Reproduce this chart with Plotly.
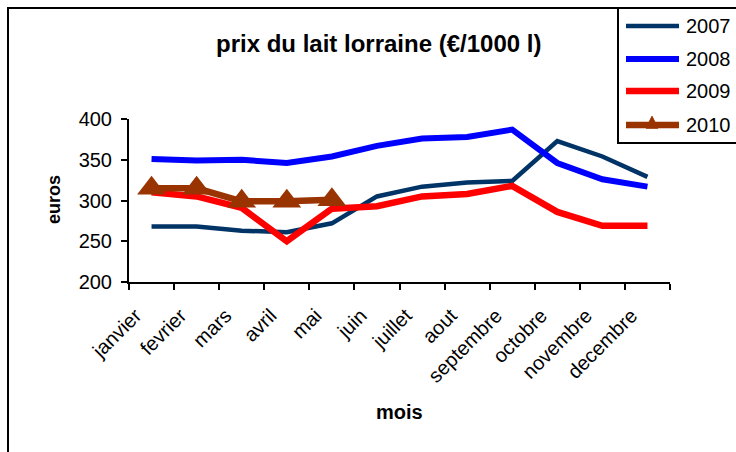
import plotly.graph_objects as go

mois = ["janvier", "fevrier", "mars", "avril", "mai", "juin", "juillet",
        "aout", "septembre", "octobre", "novembre", "decembre"]
v2007 = [268, 268, 263, 261, 272, 305, 317, 322, 324, 373, 354, 329]
v2008 = [351, 349, 350, 346, 354, 367, 376, 378, 387, 346, 326, 317]
v2009 = [310, 305, 291, 250, 290, 293, 305, 308, 318, 286, 269, 269]
v2010 = [315, 315, 299, 299, 301]

annees = ["2007", "2008", "2009", "2010"]
couleurs = ["#003366", "#0000FF", "#FF0000", "#993300"]
epaisseurs = [4.5, 6, 6.5, 6.5]

W, H = 736, 452
L, R, T, B = 129, 670, 119, 282

def px(x):
    return (x - L) / (R - L)

def py(y):
    return (B - y) / (B - T)

FONT = "Liberation Sans, Arial, sans-serif"

fig = go.Figure()
series = [v2007, v2008, v2009, v2010]
for name, vals, col, w in zip(annees, series, couleurs, epaisseurs):
    is2010 = name == "2010"
    fig.add_trace(go.Scatter(
        x=mois[:len(vals)], y=vals, name=name,
        mode="lines+markers" if is2010 else "lines",
        line=dict(color=col, width=w),
        marker=dict(symbol="triangle-up", size=25, color=col) if is2010 else None,
        showlegend=False))

# manual legend (Excel style)
shapes = [
    dict(type="rect", xref="paper", yref="paper",
         x0=px(8), x1=px(760), y0=py(480), y1=py(8),
         line=dict(color="black", width=2), layer="below"),
    dict(type="rect", xref="paper", yref="paper",
         x0=px(618), x1=px(760), y0=py(143), y1=py(8),
         line=dict(color="black", width=2), fillcolor="white", layer="below"),
]
annotations = []
leg_y = [26, 59, 91, 125]
for name, col, w, yy in zip(annees, couleurs, epaisseurs, leg_y):
    shapes.append(dict(type="line", xref="paper", yref="paper",
                       x0=px(626), x1=px(679), y0=py(yy), y1=py(yy),
                       line=dict(color=col, width=w if name != "2007" else 4.5)))
    annotations.append(dict(text=name, xref="paper", yref="paper",
                            x=px(684), y=py(yy), showarrow=False,
                            xanchor="left", yanchor="middle",
                            font=dict(size=20)))
# small triangle on 2010 legend line
tx, ty = px(652), py(125)
dxp = 6 / (R - L)
dyp = 8 / (B - T)
shapes.append(dict(type="path", xref="paper", yref="paper",
                   path=f"M {tx - dxp} {ty - dyp * 0.4} L {tx + dxp} {ty - dyp * 0.4} "
                        f"L {tx} {ty + dyp * 1.1} Z",
                   fillcolor="#993300", line=dict(color="#993300", width=1)))

annotations += [
    dict(text="<b>prix du lait lorraine (€/1000 l)</b>", xref="paper", yref="paper",
         x=px(378), y=py(43), showarrow=False, font=dict(size=24),
         xanchor="center", yanchor="middle"),
    dict(text="<b>euros</b>", xref="paper", yref="paper",
         x=px(54), y=py(200), showarrow=False, font=dict(size=18),
         textangle=-90, xanchor="center", yanchor="middle"),
    dict(text="<b>mois</b>", xref="paper", yref="paper",
         x=px(399), y=py(412), showarrow=False, font=dict(size=20),
         xanchor="center", yanchor="middle"),
]

fig.update_layout(
    width=W, height=H,
    margin=dict(l=L, r=W - R, t=T, b=H - B, autoexpand=False),
    paper_bgcolor="white", plot_bgcolor="white",
    font=dict(family=FONT, size=16, color="black"),
    showlegend=False,
    xaxis=dict(type="category", range=[-0.5, 11.5], showgrid=False,
               showline=True, linecolor="black", linewidth=2,
               ticks="outside", tickson="boundaries", ticklen=6,
               tickcolor="black", tickwidth=2, tickangle=-45,
               ticklabelshift=-16, ticklabelstandoff=12,
               tickfont=dict(size=20), automargin=False),
    yaxis=dict(range=[200, 400], dtick=50, showgrid=False,
               showline=True, linecolor="black", linewidth=2,
               ticks="outside", ticklen=6, tickcolor="black", tickwidth=2,
               ticklabelstandoff=5,
               tickfont=dict(size=20), zeroline=False, automargin=False),
    shapes=shapes,
    annotations=annotations,
)

fig.write_html("out.html", config={"displayModeBar": False},
               post_script="document.body.style.margin='0';document.body.style.overflow='hidden';")
